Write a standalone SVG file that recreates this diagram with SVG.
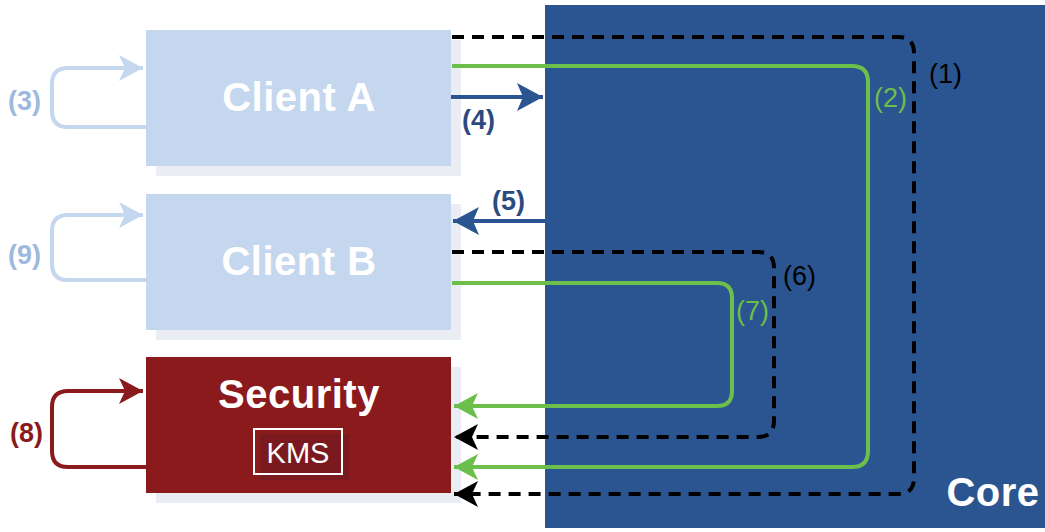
<svg xmlns="http://www.w3.org/2000/svg" width="1045" height="532" viewBox="0 0 1045 532">
<style>
.shadow{fill:#eaedf4}
.client{fill:#c5d7ee}
.sec{fill:#8b1a1c}
.title{font-family:"Liberation Sans",Arial,sans-serif;font-weight:bold;font-size:40px;fill:#ffffff;text-anchor:middle;letter-spacing:0.5px}
.lbl{font-family:"Liberation Sans",Arial,sans-serif;font-size:27px}
.lblb{font-family:"Liberation Sans",Arial,sans-serif;font-size:27px;font-weight:bold}
.dash{fill:none;stroke:#000;stroke-width:4;stroke-dasharray:12,8}
.green{fill:none;stroke:#6bbf4a;stroke-width:4}
.blue{fill:none;stroke:#2b5590;stroke-width:4}
.loopA{fill:none;stroke:#c5d7ee;stroke-width:4}
.loopS{fill:none;stroke:#8b1a1c;stroke-width:4}
</style>
<defs>
<marker id="ahG" markerUnits="userSpaceOnUse" markerWidth="26" markerHeight="26" refX="24" refY="13" orient="auto"><path d="M0,0 L24,13 L0,26 L6,13 Z" fill="#6bbf4a"/></marker>
<marker id="ahK" markerUnits="userSpaceOnUse" markerWidth="26" markerHeight="26" refX="24" refY="13" orient="auto"><path d="M0,0 L24,13 L0,26 L6,13 Z" fill="#000"/></marker>
<marker id="ahB" markerUnits="userSpaceOnUse" markerWidth="28" markerHeight="28" refX="26" refY="14" orient="auto"><path d="M0,0 L26,14 L0,28 L6,14 Z" fill="#2b5590"/></marker>
<marker id="ahL" markerUnits="userSpaceOnUse" markerWidth="26" markerHeight="26" refX="24" refY="13" orient="auto"><path d="M0,0 L24,13 L0,26 L6,13 Z" fill="#c5d7ee"/></marker>
<marker id="ahR" markerUnits="userSpaceOnUse" markerWidth="26" markerHeight="26" refX="24" refY="13" orient="auto"><path d="M0,0 L24,13 L0,26 L6,13 Z" fill="#8b1a1c"/></marker>
</defs>
<g id="core">
<rect x="545" y="5" width="500" height="523" fill="#2b5590"/>
<text x="993" y="506" class="title">Core</text>
</g>
<g id="clientA">
<rect x="156" y="40" width="305" height="136" class="shadow"/>
<rect x="146" y="30" width="305" height="136" class="client"/>
<text x="299" y="111" class="title">Client A</text>
</g>
<g id="clientB">
<rect x="156" y="204" width="305" height="136" class="shadow"/>
<rect x="146" y="194" width="305" height="136" class="client"/>
<text x="299" y="275" class="title">Client B</text>
</g>
<g id="security">
<rect x="156" y="367" width="305" height="136" class="shadow"/>
<rect x="146" y="357" width="305" height="136" class="sec"/>
<text x="299" y="408" class="title">Security</text>
<rect x="260" y="434" width="89" height="46" fill="#7a1a1f"/>
<rect x="254" y="429" width="88" height="45" fill="none" stroke="#ffffff" stroke-width="2"/>
<text x="298" y="463" font-family="'Liberation Sans',Arial,sans-serif" font-size="29" fill="#ffffff" text-anchor="middle">KMS</text>
</g>
<g id="connectors">
<path class="dash" d="M452,37 H898 Q914,37 914,53 V478 Q914,494 898,494 H454" marker-end="url(#ahK)"/>
<path class="green" d="M452,66 H852 Q868,66 868,82 V451 Q868,467 852,467 H454" marker-end="url(#ahG)"/>
<path class="dash" d="M452,252 H758 Q774,252 774,268 V421 Q774,437 758,437 H454" marker-end="url(#ahK)"/>
<path class="green" d="M452,283 H717 Q732,283 732,298 V391 Q732,406 717,406 H454" marker-end="url(#ahG)"/>
<path class="blue" d="M451,97 H543" marker-end="url(#ahB)"/>
<path class="blue" d="M545,221 H453" marker-end="url(#ahB)"/>
<path class="loopA" d="M146,127 H68 Q52,127 52,111 V84 Q52,68 68,68 H143" marker-end="url(#ahL)"/>
<path class="loopA" d="M146,280 H68 Q52,280 52,264 V231 Q52,215 68,215 H143" marker-end="url(#ahL)"/>
<path class="loopS" d="M146,467 H68 Q52,467 52,451 V407 Q52,391 68,391 H143" marker-end="url(#ahR)"/>
</g>
<g id="labels">
<text x="929" y="83" class="lbl" fill="#000">(1)</text>
<text x="874" y="107" class="lbl" fill="#6bbf4a">(2)</text>
<text x="8" y="110" class="lblb" fill="#9db9de">(3)</text>
<text x="462" y="129" class="lblb" fill="#2b4a80">(4)</text>
<text x="492" y="210" class="lblb" fill="#2b4a80">(5)</text>
<text x="783" y="285" class="lbl" fill="#000">(6)</text>
<text x="736" y="320" class="lbl" fill="#6bbf4a">(7)</text>
<text x="10" y="442" class="lblb" fill="#8b1a1c">(8)</text>
<text x="8" y="264" class="lblb" fill="#9db9de">(9)</text>
</g>
</svg>
